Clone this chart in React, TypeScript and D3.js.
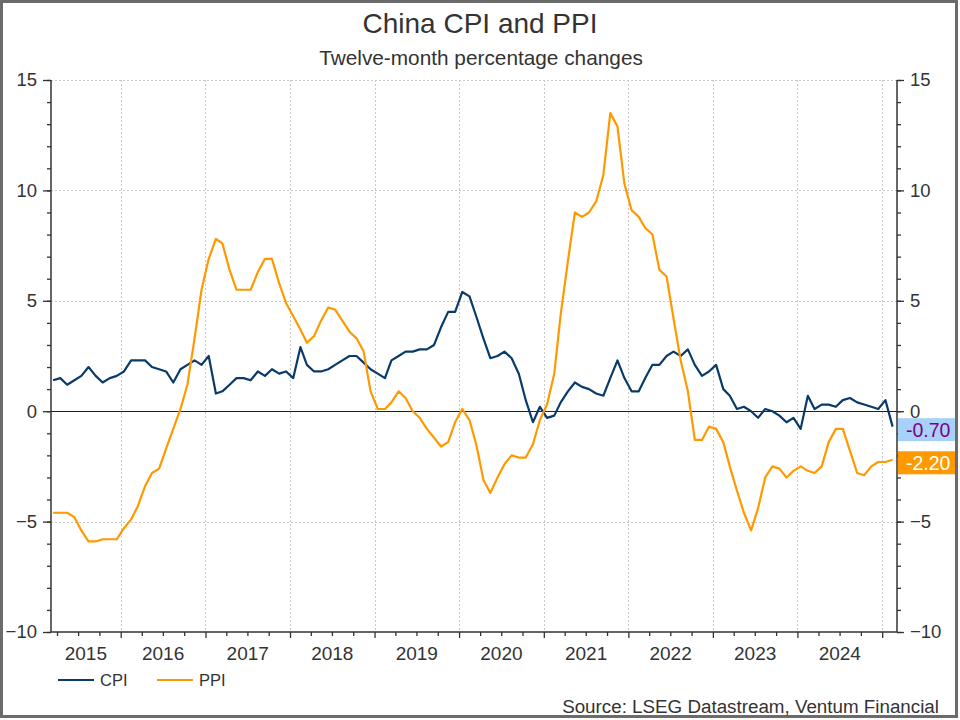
import React, { useEffect, useRef } from 'react';
import * as d3 from 'd3';

// monthly, Mar 2015 .. Feb 2025
const startYear = 2015;
const startMonth = 2; // March (0-based)

const cpi = [
  1.4, 1.5, 1.2, 1.4, 1.6, 2.0, 1.6, 1.3, 1.5, 1.6,
  1.8, 2.3, 2.3, 2.3, 2.0, 1.9, 1.8, 1.3, 1.9, 2.1, 2.3, 2.1,
  2.5, 0.8, 0.9, 1.2, 1.5, 1.5, 1.4, 1.8, 1.6, 1.9, 1.7, 1.8,
  1.5, 2.9, 2.1, 1.8, 1.8, 1.9, 2.1, 2.3, 2.5, 2.5, 2.2, 1.9,
  1.7, 1.5, 2.3, 2.5, 2.7, 2.7, 2.8, 2.8, 3.0, 3.8, 4.5, 4.5,
  5.4, 5.2, 4.3, 3.3, 2.4, 2.5, 2.7, 2.4, 1.7, 0.5, -0.5, 0.2,
  -0.3, -0.2, 0.4, 0.9, 1.3, 1.1, 1.0, 0.8, 0.7, 1.5, 2.3, 1.5,
  0.9, 0.9, 1.5, 2.1, 2.1, 2.5, 2.7, 2.5, 2.8, 2.1, 1.6, 1.8,
  2.1, 1.0, 0.7, 0.1, 0.2, 0.0, -0.3, 0.1, 0.0, -0.2, -0.5, -0.3,
  -0.8, 0.7, 0.1, 0.3, 0.3, 0.2, 0.5, 0.6, 0.4, 0.3, 0.2, 0.1,
  0.5, -0.7,
];

const ppi = [
  -4.6, -4.6, -4.6, -4.8, -5.4, -5.9, -5.9, -5.8, -5.8, -5.8,
  -5.3, -4.9, -4.3, -3.4, -2.8, -2.6, -1.7, -0.8, 0.1, 1.2, 3.3, 5.5,
  6.9, 7.8, 7.6, 6.4, 5.5, 5.5, 5.5, 6.3, 6.9, 6.9, 5.8, 4.9,
  4.3, 3.7, 3.1, 3.4, 4.1, 4.7, 4.6, 4.1, 3.6, 3.3, 2.7, 0.9,
  0.1, 0.1, 0.4, 0.9, 0.6, 0.0, -0.3, -0.8, -1.2, -1.6, -1.4, -0.5,
  0.1, -0.4, -1.5, -3.1, -3.7, -3.0, -2.4, -2.0, -2.1, -2.1, -1.5, -0.4,
  0.3, 1.7, 4.4, 6.8, 9.0, 8.8, 9.0, 9.5, 10.7, 13.5, 12.9, 10.3,
  9.1, 8.8, 8.3, 8.0, 6.4, 6.1, 4.2, 2.3, 0.9, -1.3, -1.3, -0.7,
  -0.8, -1.4, -2.5, -3.6, -4.6, -5.4, -4.4, -3.0, -2.5, -2.6, -3.0, -2.7,
  -2.5, -2.7, -2.8, -2.5, -1.4, -0.8, -0.8, -1.8, -2.8, -2.9, -2.5, -2.3,
  -2.3, -2.2,
];

const yTicks = [-10, -5, 0, 5, 10, 15];
const yearLabels = [2015, 2016, 2017, 2018, 2019, 2020, 2021, 2022, 2023, 2024];

const seriesNames = ['CPI', 'PPI'];
const seriesColors = ['#0a3a6a', '#ff9900'];

const App: React.FC = () => {
  const svgRef = useRef<SVGSVGElement | null>(null);

  useEffect(() => {
    if (!svgRef.current) return;
    const svg = d3.select(svgRef.current);
    svg.selectAll('*').remove();

    const width = 960;
    const height = 720;
    const margin = { top: 80, right: 63, bottom: 88, left: 51 };
    const font = '"Liberation Sans", Arial, sans-serif';
    const textColor = '#333333';

    const dates = cpi.map((_, i) => new Date(startYear, startMonth + i, 15));

    const x = d3.scaleTime()
      .domain([new Date(2015, 2, 6), new Date(2025, 2, 6)])
      .range([margin.left, width - margin.right]);

    const y = d3.scaleLinear()
      .domain([-10, 15])
      .range([height - margin.bottom, margin.top]);

    const x0 = margin.left;
    const x1 = width - margin.right;
    const yBottom = height - margin.bottom;

    // background + frame
    svg.append('rect')
      .attr('x', 0).attr('y', 0)
      .attr('width', width).attr('height', height)
      .attr('fill', '#ffffff');
    svg.append('rect')
      .attr('x', 1.5).attr('y', 1.5)
      .attr('width', 955).attr('height', 715)
      .attr('fill', 'none')
      .attr('stroke', '#6b6b6b')
      .attr('stroke-width', 3);

    // titles
    svg.append('text')
      .attr('x', 480).attr('y', 33)
      .attr('text-anchor', 'middle')
      .attr('font-family', font).attr('font-size', 28)
      .attr('fill', textColor)
      .text('China CPI and PPI');
    svg.append('text')
      .attr('x', 481).attr('y', 65)
      .attr('text-anchor', 'middle')
      .attr('font-family', font).attr('font-size', 20.8)
      .attr('fill', textColor)
      .text('Twelve-month percentage changes');

    // grid
    const yearStarts = d3.timeYear.range(new Date(2016, 0, 1), new Date(2025, 0, 2));
    const grid = svg.append('g')
      .attr('stroke', '#c8c8c8')
      .attr('stroke-width', 1)
      .attr('stroke-dasharray', '2,2');
    grid.selectAll('line.v')
      .data(yearStarts)
      .join('line')
      .attr('class', 'v')
      .attr('x1', d => Math.round(x(d)) + 0.5)
      .attr('x2', d => Math.round(x(d)) + 0.5)
      .attr('y1', y(15)).attr('y2', yBottom);
    grid.selectAll('line.h')
      .data(yTicks.filter(t => t !== 0 && t !== -10))
      .join('line')
      .attr('class', 'h')
      .attr('x1', x0).attr('x2', x1)
      .attr('y1', d => Math.round(y(d)) + 0.5)
      .attr('y2', d => Math.round(y(d)) + 0.5);

    // zero line
    svg.append('line')
      .attr('x1', x0).attr('x2', x1)
      .attr('y1', Math.round(y(0)) + 0.5).attr('y2', Math.round(y(0)) + 0.5)
      .attr('stroke', '#222').attr('stroke-width', 1);

    // axes
    const minorY = d3.range(-10, 16, 1);
    const tickLines = (g: d3.Selection<SVGGElement, unknown, null, undefined>) => {
      g.select('.domain').remove();
      g.selectAll('line').attr('stroke', '#333').attr('stroke-width', 1.3);
    };
    const styleAxis = (g: d3.Selection<SVGGElement, unknown, null, undefined>) => {
      tickLines(g);
      g.selectAll('text')
        .attr('font-family', font)
        .attr('font-size', 18.5)
        .attr('fill', textColor);
    };

    // left
    svg.append('g')
      .attr('transform', `translate(${x0},0)`)
      .call(d3.axisLeft(y).tickValues(minorY).tickSize(4).tickFormat(() => ''))
      .call(tickLines);
    svg.append('g')
      .attr('transform', `translate(${x0},0)`)
      .call(d3.axisLeft(y).tickValues(yTicks).tickSize(8).tickPadding(6).tickFormat(d3.format('d')))
      .call(styleAxis);

    // right
    svg.append('g')
      .attr('transform', `translate(${x1},0)`)
      .call(d3.axisRight(y).tickValues(minorY).tickSize(4).tickFormat(() => ''))
      .call(tickLines);
    svg.append('g')
      .attr('transform', `translate(${x1},0)`)
      .call(d3.axisRight(y).tickValues(yTicks).tickSize(7).tickPadding(6).tickFormat(d3.format('d')))
      .call(styleAxis);

    // bottom
    const quarters = d3.timeMonth.every(3)!.range(new Date(2015, 3, 1), new Date(2025, 2, 1))
      .filter(d => d.getMonth() !== 0);
    svg.append('g')
      .attr('transform', `translate(0,${yBottom})`)
      .call(d3.axisBottom(x).tickValues(quarters).tickSize(4).tickFormat(() => ''))
      .call(tickLines);
    svg.append('g')
      .attr('transform', `translate(0,${yBottom})`)
      .call(d3.axisBottom(x).tickValues(yearStarts).tickSize(6).tickFormat(() => ''))
      .call(tickLines);

    // year labels centred in visible part of each year
    svg.append('g')
      .selectAll('text')
      .data(yearLabels)
      .join('text')
      .attr('x', d => {
        const a = Math.max(x(new Date(d, 0, 1)), x0);
        const b = Math.min(x(new Date(d + 1, 0, 1)), x1);
        return (a + b) / 2;
      })
      .attr('y', yBottom + 28)
      .attr('text-anchor', 'middle')
      .attr('font-family', font).attr('font-size', 19)
      .attr('fill', textColor)
      .text(d => String(d));

    // axis frame lines
    const frame = svg.append('g').attr('stroke', '#333').attr('stroke-width', 1.5);
    frame.append('line').attr('x1', x0).attr('x2', x0).attr('y1', y(15)).attr('y2', yBottom);
    frame.append('line').attr('x1', x1).attr('x2', x1).attr('y1', y(15)).attr('y2', yBottom);
    frame.append('line').attr('x1', x0).attr('x2', x1).attr('y1', yBottom).attr('y2', yBottom);

    // series
    const line = d3.line<number>()
      .x((_, i) => x(dates[i]))
      .y(d => y(d));
    [cpi, ppi].forEach((s, k) => {
      svg.append('path')
        .datum(s)
        .attr('d', line)
        .attr('fill', 'none')
        .attr('stroke', seriesColors[k])
        .attr('stroke-width', 2.2)
        .attr('stroke-linejoin', 'round');
    });

    // last value labels
    const lastLabels = [
      { v: cpi[cpi.length - 1], fill: '#a8d1fa', color: '#800080' },
      { v: ppi[ppi.length - 1], fill: '#ff9900', color: '#ffffff' },
    ];
    lastLabels.forEach(l => {
      const cy = y(l.v) + 3;
      svg.append('rect')
        .attr('x', x1 + 1).attr('y', cy - 11.5)
        .attr('width', 57).attr('height', 23)
        .attr('fill', l.fill);
      svg.append('text')
        .attr('x', x1 + 9).attr('y', cy + 7)
        .attr('font-family', font).attr('font-size', 19.5)
        .attr('fill', l.color)
        .text(l.v.toFixed(2));
    });

    // legend
    const legend = svg.append('g').attr('transform', `translate(58,680)`);
    seriesNames.forEach((n, k) => {
      const gx = k * 99;
      legend.append('line')
        .attr('x1', gx).attr('x2', gx + 36)
        .attr('y1', 0).attr('y2', 0)
        .attr('stroke', seriesColors[k]).attr('stroke-width', 2);
      legend.append('text')
        .attr('x', gx + 42).attr('y', 6)
        .attr('font-family', font).attr('font-size', 16.5)
        .attr('fill', textColor)
        .text(n);
    });

    // source
    svg.append('text')
      .attr('x', 939).attr('y', 713)
      .attr('text-anchor', 'end')
      .attr('font-family', font).attr('font-size', 18.8)
      .attr('fill', textColor)
      .text('Source: LSEG Datastream, Ventum Financial');
  }, []);

  return (
    <svg ref={svgRef} width={960} height={720}
      style={{ display: 'block', position: 'absolute', left: 0, top: 0 }} />
  );
};

export default App;
